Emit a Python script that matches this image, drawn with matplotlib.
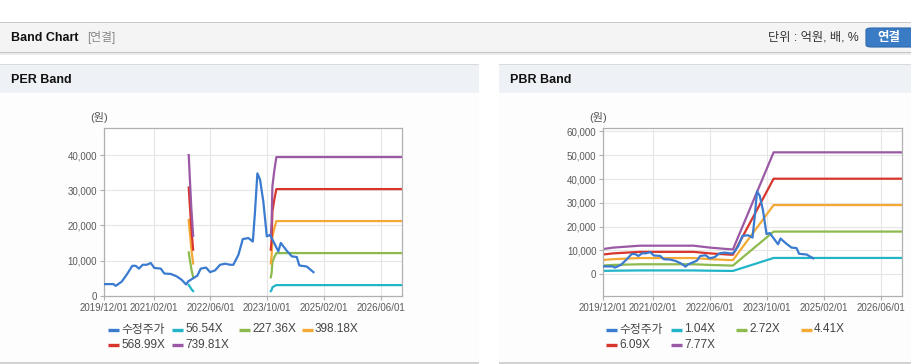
import matplotlib
matplotlib.use('Agg')
import matplotlib.pyplot as plt
from matplotlib.patches import Rectangle, FancyBboxPatch
from matplotlib.lines import Line2D
import numpy as np
import pandas as pd

plt.rcParams['font.family'] = ['Liberation Sans', 'Noto Sans CJK KR']

# ---- data ----
price_dates = ['2019-12-01', '2020-02-19', '2020-03-10', '2020-05-01', '2020-06-13',
               '2020-07-31', '2020-08-29', '2020-09-26', '2020-10-28', '2020-12-02',
               '2021-01-05', '2021-02-05', '2021-04-01', '2021-05-02', '2021-06-25',
               '2021-08-16', '2021-09-28', '2021-11-04', '2021-11-24', '2022-01-06',
               '2022-02-09', '2022-03-10', '2022-04-25', '2022-05-29', '2022-07-11',
               '2022-08-23', '2022-10-05', '2022-11-17', '2022-12-15', '2023-01-27',
               '2023-03-06', '2023-04-23', '2023-05-31', '2023-06-19', '2023-07-09',
               '2023-08-01', '2023-08-29', '2023-09-28', '2023-10-26', '2024-01-05',
               '2024-01-26', '2024-03-17', '2024-04-29', '2024-06-11', '2024-07-03',
               '2024-09-05', '2024-11-01']
price = [3300, 3300, 2800, 4000, 6000, 8500, 8500, 7700, 8800, 8800,
         9300, 7900, 7700, 6300, 6200, 5500, 4500, 3200, 4100, 5000,
         5700, 7700, 8000, 6700, 7200, 8800, 9100, 8800, 8800, 11600,
         16100, 16400, 15400, 24000, 34800, 33000, 26800, 16900, 17300, 12600,
         15000, 12800, 11200, 11000, 8600, 8300, 6700]

# EPS used for PER band (gaps where no band is drawn)
eps_dates = ['2021-11-27', '2021-12-05', '2021-12-20', '2022-01-04', '2022-01-05',
             '2023-10-31', '2023-11-01', '2023-11-08', '2023-11-15', '2023-12-01',
             '2023-12-19', '2026-12-31']
eps = [54.07, 46.5, 33.0, 23.0, np.nan,
       np.nan, 23.0, 28.0, 42.0, 48.0, 53.3, 53.3]
per_multiples = [56.54, 227.36, 398.18, 568.99, 739.81]

# BPS used for PBR band
bps_dates = ['2019-12-01', '2020-02-22', '2020-10-11', '2022-01-11', '2022-06-03',
             '2022-11-22', '2022-12-15', '2023-11-28', '2026-12-31']
bps = [1364, 1440, 1545, 1545, 1440, 1350, 1350, 6590, 6590]
pbr_multiples = [1.04, 2.72, 4.41, 6.09, 7.77]

tick_dates = ['2019-12-01', '2021-02-01', '2022-06-01', '2023-10-01', '2025-02-01', '2026-06-01']
tick_labels = ['2019/12/01', '2021/02/01', '2022/06/01', '2023/10/01', '2025/02/01', '2026/06/01']

price_color = '#3a7bd0'
band_colors = ['#22b5c8', '#8cba4c', '#f4a935', '#d8352c', '#9a58a5']

W, H = 912, 364


def fx(x):
    return x / W


def fy(y):
    return 1 - y / H


fig = plt.figure(figsize=(W / 100, H / 100), dpi=100)
fig.patch.set_facecolor('white')


def rect(x0, y0, x1, y1, color, z=-5):
    fig.add_artist(Rectangle((fx(x0), fy(y1)), fx(x1) - fx(x0), fy(y0) - fy(y1),
                             transform=fig.transFigure, facecolor=color,
                             edgecolor='none', zorder=z))


# top header bar
rect(0, 22, W, 23, '#c9c9c9')
rect(0, 23, W, 52, '#f4f4f4')
rect(0, 52, W, 53, '#c4c4c4')
rect(0, 53, W, 55, '#ececec')
fig.text(fx(11), fy(38), 'Band Chart', fontsize=9, fontweight='bold', color='#111',
         va='center', ha='left')
fig.text(fx(87), fy(38), '[연결]', fontsize=8.5, color='#888', va='center', ha='left')
fig.text(fx(859), fy(38), '단위 : 억원, 배, %', fontsize=8.8, color='#333', va='center', ha='right')
fig.add_artist(FancyBboxPatch((fx(866), fy(47)), fx(60), fy(0) - fy(19),
                              boxstyle='round,pad=0,rounding_size=0.006',
                              transform=fig.transFigure, facecolor='#3a7bc6',
                              edgecolor='#2d68ad', linewidth=0.8, zorder=2))
fig.text(fx(889), fy(38), '연결', fontsize=9, fontweight='bold', color='white',
         va='center', ha='center', zorder=3)

# panels
panels = [(0, 479, 'PER Band'), (499, W, 'PBR Band')]
for x0, x1, title in panels:
    rect(x0, 64, x1, 65, '#dadada')
    rect(x0, 65, x1, 93, '#eef2f7')
    rect(x0, 93, x1, 362, '#fdfdfd')
    rect(x0, 362, x1, 364, '#d2d2d2')
    fig.text(fx(x0 + 11), fy(80), title, fontsize=9, fontweight='bold', color='#111',
             va='center', ha='left')


def setup_axes(rect_px, ylim, yticks):
    x0, y0, x1, y1 = rect_px
    ax = fig.add_axes([fx(x0), fy(y1), fx(x1) - fx(x0), fy(y0) - fy(y1)])
    ax.set_facecolor('white')
    ax.set_xlim(pd.Timestamp('2019-12-01'), pd.Timestamp('2026-12-01'))
    ax.set_ylim(*ylim)
    ax.set_xticks(pd.to_datetime(tick_dates))
    ax.set_xticklabels(tick_labels)
    ax.set_yticks(yticks)
    ax.set_yticklabels([f'{v:,}' for v in yticks])
    ax.grid(True, color='#e6e6e6', linewidth=0.8)
    ax.set_axisbelow(True)
    for s in ax.spines.values():
        s.set_color('#b0b0b0')
        s.set_linewidth(0.9)
    ax.tick_params(axis='both', colors='#b0b0b0', labelcolor='#5a5a5a', labelsize=7,
                   length=3, width=0.8, pad=2)
    return ax


pd_price = pd.to_datetime(price_dates)
pd_eps = pd.to_datetime(eps_dates)
pd_bps = pd.to_datetime(bps_dates)

# PER
ax1 = setup_axes((104, 128, 402, 295.7), (0, 47700), [0, 10000, 20000, 30000, 40000])
ax1.plot(pd_price, price, color=price_color, lw=1.6, zorder=3)
for m, c in zip(per_multiples, band_colors):
    ax1.plot(pd_eps, np.array(eps) * m, color=c, lw=1.6, zorder=2)
fig.text(fx(99), fy(118), '(원)', fontsize=8, color='#555', ha='center', va='center')

# PBR
ax2 = setup_axes((603.3, 128.3, 902, 295.7), (-9000, 61300),
                 [0, 10000, 20000, 30000, 40000, 50000, 60000])
for m, c in zip(pbr_multiples, band_colors):
    ax2.plot(pd_bps, np.array(bps) * m, color=c, lw=1.6, zorder=2)
ax2.plot(pd_price, price, color=price_color, lw=1.6, zorder=3)
fig.text(fx(598), fy(118), '(원)', fontsize=8, color='#555', ha='center', va='center')


# legends
def legend_item(x, y, label, color):
    fig.add_artist(Line2D([fx(x), fx(x + 11)], [fy(y), fy(y)], transform=fig.transFigure,
                          color=color, lw=2.4, solid_capstyle='butt'))
    fig.text(fx(x + 13), fy(y), label, fontsize=8.5, color='#444', va='center', ha='left')


per_labels = ['수정주가'] + [f'{m:.2f}X' for m in per_multiples]
pbr_labels = ['수정주가'] + [f'{m:.2f}X' for m in pbr_multiples]
colors = [price_color] + band_colors
per_pos = [(108, 329.5), (172, 329.5), (239, 329.5), (302, 329.5), (108, 344.5), (172, 344.5)]
pbr_pos = [(606, 329.5), (671, 329.5), (736, 329.5), (801, 329.5), (606, 344.5), (671, 344.5)]
for (x, y), lab, c in zip(per_pos, per_labels, colors):
    legend_item(x, y, lab, c)
for (x, y), lab, c in zip(pbr_pos, pbr_labels, colors):
    legend_item(x, y, lab, c)

fig.savefig('out.png', dpi=100)
